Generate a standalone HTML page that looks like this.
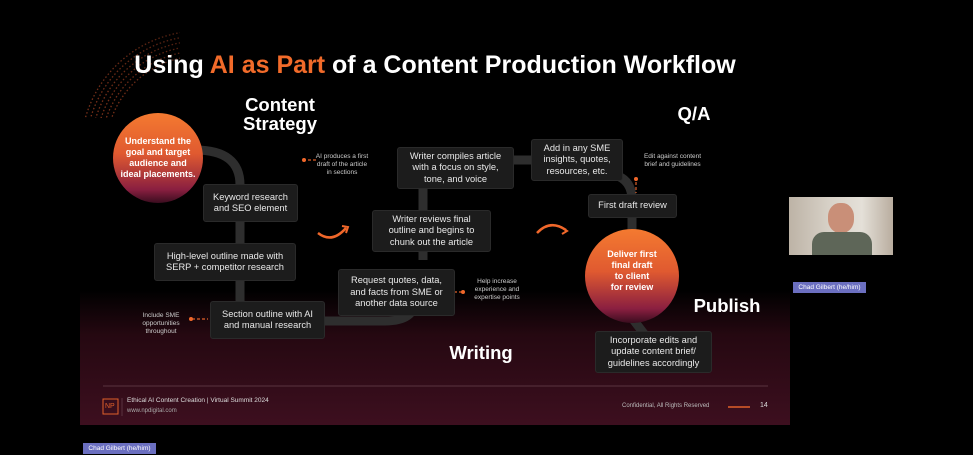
<!DOCTYPE html>
<html><head><meta charset="utf-8"><style>
*{margin:0;padding:0;box-sizing:border-box}
body{width:973px;height:455px;background:#000;position:relative;overflow:hidden;font-family:"Liberation Sans",sans-serif;color:#fff}
.slide{position:absolute;left:80px;top:0;width:710px;height:425px;background:linear-gradient(#000 0,#000 290px,#250811 335px,#3d0f1f 425px);overflow:hidden}
.a{position:absolute}
.box{position:absolute;background:#1c1c1c;border:1px solid #2a2a2a;border-radius:3px;font-size:9.3px;line-height:11.5px;text-align:center;display:flex;align-items:center;justify-content:center;color:#e8e8e8}
.note{position:absolute;font-size:6.5px;line-height:8px;text-align:center;color:#ccc}
.h{position:absolute;font-size:18.5px;font-weight:bold;line-height:19px;text-align:center}
.circ{position:absolute;border-radius:50%;background:linear-gradient(#f47a30 0%,#e05a30 45%,#8a1f40 85%,#3a0d1f 100%);display:flex;align-items:center;justify-content:center;text-align:center;font-weight:bold;font-size:9px;line-height:11px}
</style></head><body>
<div class="slide">
<svg class="a" style="left:0;top:0" width="710" height="425">
<defs><clipPath id="q"><rect x="0" y="30" width="100" height="88"/></clipPath>
<linearGradient id="fd" x1="0" y1="1" x2="1" y2="0"><stop offset="0" stop-color="#c8502a" stop-opacity=".8"/><stop offset="1" stop-color="#c8502a" stop-opacity=".25"/></linearGradient></defs>
<g fill="none" stroke="url(#fd)" stroke-width="1.3" stroke-dasharray="1.5 2.2" clip-path="url(#q)">
<circle cx="120" cy="150" r="94"/><circle cx="120" cy="150" r="99"/><circle cx="120" cy="150" r="104"/><circle cx="120" cy="150" r="109"/><circle cx="120" cy="150" r="114"/><circle cx="120" cy="150" r="119"/>
</g>
<g fill="none" stroke="#2e2e2e" stroke-width="9">
<path d="M115 150 Q160 150 160 185 L160 300 Q160 320 190 320"/>
<path d="M245 321 L305 321 Q335 321 335 300"/>
<path d="M343 260 L343 185"/>
<path d="M430 160 L460 160"/>
<path d="M535 175 Q552 180 552 200 L552 240"/>
<path d="M552 318 L565 335"/>
</g>
<path d="M238 233 Q252 244 266 228" stroke="#f0672a" stroke-width="2.5" fill="none"/><path d="M262 226 L268 227 L266 233" stroke="#f0672a" stroke-width="2" fill="none"/>
<path d="M457 233 Q470 219 486 230" stroke="#f0672a" stroke-width="2.5" fill="none"/><path d="M481 227 L487 231 L482 234" stroke="#f0672a" stroke-width="2" fill="none"/>
<g stroke="#e0602a" stroke-width="1.2" stroke-dasharray="3 2"><line x1="223" y1="160" x2="236" y2="160"/><line x1="382" y1="292" x2="372" y2="292"/><line x1="112" y1="319" x2="128" y2="319"/><line x1="556" y1="182" x2="556" y2="193"/></g>
<g fill="#f0672a"><circle cx="224" cy="160" r="2"/><circle cx="383" cy="292" r="2"/><circle cx="111" cy="319" r="2"/><circle cx="556" cy="179" r="2"/></g>
<line x1="23" y1="386" x2="688" y2="386" stroke="#5a3340" stroke-width="1"/>
<rect x="23" y="399" width="15" height="15" fill="none" stroke="#e0602a" stroke-width="1"/>
<line x1="42" y1="398" x2="42" y2="416" stroke="#5a3340"/>
<line x1="648" y1="407" x2="670" y2="407" stroke="#e0602a" stroke-width="1.5"/>
</svg>
<div class="a" style="left:50px;top:51px;width:610px;font-size:25px;font-weight:bold;text-align:center;white-space:nowrap">Using <span style="color:#f26b2a">AI as Part</span> of a Content Production Workflow</div>
<div class="h" style="left:155px;top:95px;width:90px">Content<br>Strategy</div>
<div class="h" style="left:597px;top:104px;width:34px">Q/A</div>
<div class="h" style="left:612px;top:296px;width:70px">Publish</div>
<div class="h" style="left:366px;top:343px;width:70px">Writing</div>
<div class="circ" style="left:33px;top:113px;width:90px;height:90px">Understand the<br>goal and target<br>audience and<br>ideal placements.</div>
<div class="circ" style="left:505px;top:229px;width:94px;height:94px;padding-bottom:10px">Deliver first<br>final draft<br>to client<br>for review</div>
<div class="box" style="left:123px;top:184px;width:95px;height:38px">Keyword research<br>and SEO element</div>
<div class="box" style="left:74px;top:243px;width:142px;height:38px">High-level outline made with<br>SERP + competitor research</div>
<div class="box" style="left:130px;top:301px;width:115px;height:38px">Section outline with AI<br>and manual research</div>
<div class="box" style="left:258px;top:269px;width:117px;height:47px">Request quotes, data,<br>and facts from SME or<br>another data source</div>
<div class="box" style="left:292px;top:210px;width:119px;height:42px">Writer reviews final<br>outline and begins to<br>chunk out the article</div>
<div class="box" style="left:317px;top:147px;width:117px;height:42px">Writer compiles article<br>with a focus on style,<br>tone, and voice</div>
<div class="box" style="left:451px;top:139px;width:92px;height:42px">Add in any SME<br>insights, quotes,<br>resources, etc.</div>
<div class="box" style="left:508px;top:194px;width:89px;height:24px">First draft review</div>
<div class="box" style="left:515px;top:331px;width:117px;height:42px">Incorporate edits and<br>update content brief/<br>guidelines accordingly</div>
<div class="note" style="left:228px;top:153px;width:68px">AI produces a first<br>draft of the article<br>in sections</div>
<div class="note" style="left:384px;top:278px;width:66px">Help increase<br>experience and<br>expertise points</div>
<div class="note" style="left:55px;top:312px;width:52px">Include SME<br>opportunities<br>throughout</div>
<div class="note" style="left:550px;top:153px;width:85px">Edit against content<br>brief and guidelines</div>
<div class="a" style="left:25px;top:403px;font-size:7px;color:#e0602a">NP</div>
<div class="a" style="left:47px;top:397px;font-size:6.5px;color:#ddd">Ethical AI Content Creation | Virtual Summit 2024</div>
<div class="a" style="left:47px;top:408px;font-size:6px;color:#aaa">www.npdigital.com</div>
<div class="a" style="left:542px;top:403px;font-size:6px;color:#bbb">Confidential, All Rights Reserved</div>
<div class="a" style="left:680px;top:402px;font-size:7px;color:#ddd">14</div>
</div>
<div class="a" style="left:789px;top:197px;width:104px;height:58px;background:linear-gradient(90deg,#bdb3a6,#d8d2c8 40%,#e4e0d8 70%,#b9ad9f)"></div>
<div class="a" style="left:828px;top:203px;width:26px;height:30px;border-radius:45%;background:#c98f78"></div>
<div class="a" style="left:812px;top:232px;width:60px;height:23px;border-radius:12px 12px 0 0;background:#5e6658"></div>
<div class="a" style="left:793px;top:282px;width:73px;height:11px;background:#6b6fc0;font-size:6.5px;line-height:11px;text-align:center">Chad Gilbert (he/him)</div>
<div class="a" style="left:83px;top:443px;width:73px;height:11px;background:#6b6fc0;font-size:6.5px;line-height:11px;text-align:center">Chad Gilbert (he/him)</div>
</body></html>
